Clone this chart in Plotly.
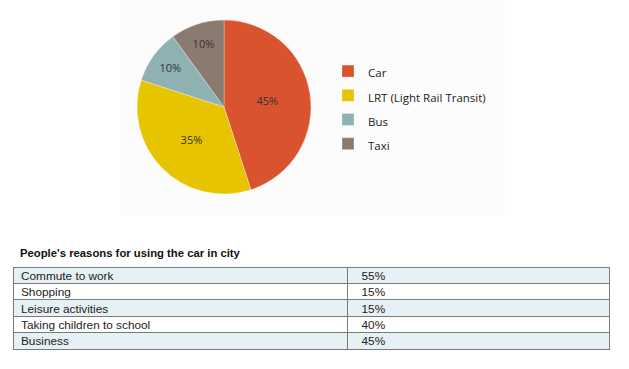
import plotly.graph_objects as go

modes = ["Car", "LRT (Light Rail Transit)", "Bus", "Taxi"]
shares = [45, 35, 10, 10]
slice_colors = ["#D9532F", "#E6C400", "#8FB1B3", "#8A7A70"]

reasons = ["Commute to work", "Shopping", "Leisure activities", "Taking children to school", "Business"]
reason_pct = ["55%", "15%", "15%", "40%", "45%"]

W, H = 629, 369
fig = go.Figure()

fig.add_trace(go.Pie(
    labels=[f"<span style='font-size:11.5px'>{m}</span>" for m in modes],
    values=shares, sort=False, direction="clockwise", rotation=0,
    marker=dict(colors=slice_colors, line=dict(color="rgba(255,255,255,0.6)", width=0.5)),
    textinfo="percent", textposition="inside", insidetextorientation="horizontal",
    textfont=dict(family="Open Sans", size=11, color="#333333"),
    domain=dict(x=[(224 - 87) / W, (224 + 87) / W], y=[(262 - 87) / H, (262 + 87) / H]),
    showlegend=True,
))

ROW_H = 16.4
TABLE_TOP = 267
row_fill = ["#E5F1F4" if i % 2 == 0 else "#FFFFFF" for i in range(len(reasons))]
no_header = dict(values=["", ""], height=0, line=dict(width=0),
                 fill=dict(color="rgba(0,0,0,0)"), font=dict(size=1))

# grid: cell fills and borders
fig.add_trace(go.Table(
    columnwidth=[334, 262],
    header=no_header,
    cells=dict(
        values=[["" for _ in reasons], ["" for _ in reason_pct]],
        height=ROW_H,
        fill=dict(color=[row_fill, row_fill]),
        line=dict(color="#7A7A7A", width=1),
        font=dict(size=1),
    ),
    domain=dict(x=[13 / W, 609 / W], y=[0.0, 1 - TABLE_TOP / H]),
))

# cell texts (same rows, lifted so the text sits inside each row)
fig.add_trace(go.Table(
    columnwidth=[334, 262],
    header=no_header,
    cells=dict(
        values=[reasons, ["  " + p for p in reason_pct]],
        height=ROW_H,
        align="left",
        fill=dict(color="rgba(0,0,0,0)"),
        line=dict(width=0, color="rgba(0,0,0,0)"),
        font=dict(family="Liberation Sans", size=11.8, color="#222222"),
    ),
    domain=dict(x=[13 / W, 609 / W], y=[0.0, 1 - (TABLE_TOP - 4) / H]),
))

fig.add_annotation(
    text="<b>People's reasons for using the car in city</b>", x=18 / W, y=1 - 253 / H,
    xref="paper", yref="paper", xanchor="left", yanchor="middle", showarrow=False,
    font=dict(family="Liberation Sans", size=11.3, color="#111111"),
)

fig.update_layout(
    width=W, height=H, margin=dict(l=0, r=0, t=0, b=0),
    paper_bgcolor="white", plot_bgcolor="white",
    legend=dict(x=328 / W, y=1 - 54 / H, xanchor="left", yanchor="top",
                font=dict(family="Open Sans", size=16.3, color="#222222"),
                bgcolor="rgba(0,0,0,0)", itemwidth=30),
    shapes=[dict(type="rect", xref="paper", yref="paper", x0=120 / W, x1=505 / W,
                 y0=1 - 215 / H, y1=1.0, fillcolor="#FCFCFC", line=dict(width=0), layer="below")],
)

fig.write_html("out.html", config={"displayModeBar": False},
               post_script="document.body.style.margin='0px';")
